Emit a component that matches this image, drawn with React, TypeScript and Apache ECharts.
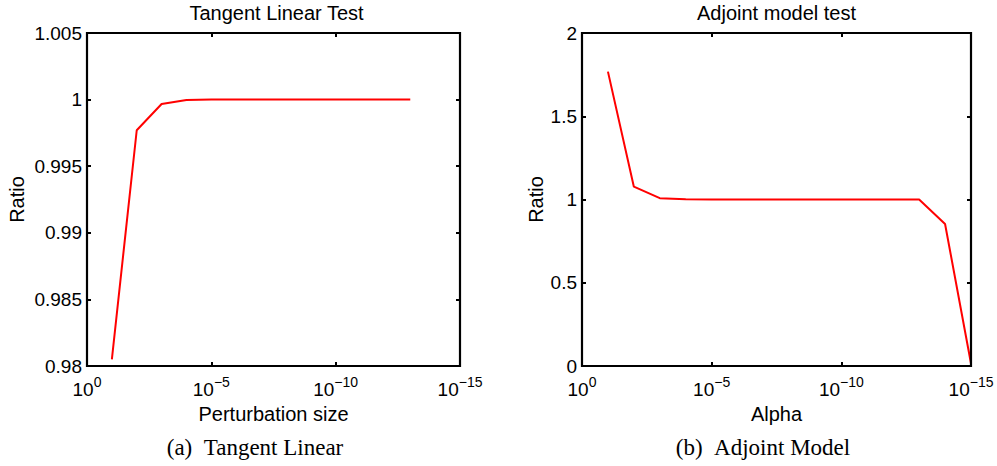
import React, { useEffect, useRef } from "react";
import * as echarts from "echarts";

// Tangent linear test (left)
const tlPerturbation = [1e-1, 1e-2, 1e-3, 1e-4, 1e-5, 1e-6, 1e-7, 1e-8, 1e-9, 1e-10, 1e-11, 1e-12, 1e-13];
const tlRatio = [0.9805, 0.9977, 0.99967, 0.99997, 1.0, 1.0, 1.0, 1.0, 1.0, 1.0, 1.0, 1.0, 1.0];

// Adjoint model test (right)
const adAlpha = [1e-1, 1e-2, 1e-3, 1e-4, 1e-5, 1e-6, 1e-7, 1e-8, 1e-9, 1e-10, 1e-11, 1e-12, 1e-13, 1e-14, 1e-15];
const adRatio = [1.768, 1.077, 1.008, 1.001, 1.0, 1.0, 1.0, 1.0, 1.0, 1.0, 1.0, 1.0, 1.0, 0.853, 0.015];

const titles = ["Tangent Linear Test", "Adjoint model test"];
const xNames = ["Perturbation size", "Alpha"];
const yName = "Ratio";
const captions = ["(a)\u2002Tangent Linear", "(b)\u2002Adjoint Model"];

const SANS = "'Liberation Sans', Arial, Helvetica, sans-serif";
const SERIF = "'Liberation Serif', 'Times New Roman', serif";

export default function App() {
  const ref = useRef<HTMLDivElement>(null);
  useEffect(() => {
    if (!ref.current) return;
    const chart = echarts.init(ref.current, null, { renderer: "svg" });

    const grids = [
      { left: 87, top: 33, width: 373, height: 333 },
      { left: 582, top: 33, width: 389, height: 333 },
    ];

    const logFormatter = (v: number) => {
      const e = Math.round(Math.log10(v));
      const s = e < 0 ? "\u2212" + Math.abs(e) : String(e);
      return "{b|10}{s|" + s + "}";
    };

    const mkLine = () => ({ show: true, onZero: false, lineStyle: { color: "#000000", width: 2, opacity: 1 } });
    const mkTick = () => ({ show: true, inside: true, length: 4, lineStyle: { color: "#000000", width: 2 } });

    const xAxes: any[] = [];
    const yAxes: any[] = [];
    const yCfg = [
      { min: 0.98, max: 1.005, interval: 0.005, gap: 60 },
      { min: 0, max: 2, interval: 0.5, gap: 36 },
    ];
    for (let i = 0; i < 2; i++) {
      xAxes.push({
        type: "log",
        logBase: 10,
        gridIndex: i,
        min: 1e-15,
        max: 1,
        interval: 5,
        inverse: true,
        position: "bottom",
        name: xNames[i],
        nameLocation: "middle",
        nameGap: 25,
        nameTextStyle: { fontFamily: SANS, fontSize: 20, color: "#000" },
        axisLine: mkLine(),
        axisTick: mkTick(),
        splitLine: { show: false },
        minorTick: { show: false },
        axisLabel: {
          show: true,
          margin: 9,
          showMinLabel: true,
          showMaxLabel: true,
          formatter: logFormatter,
          rich: {
            b: { fontFamily: SANS, fontSize: 19, color: "#000", lineHeight: 24, verticalAlign: "bottom" },
            s: { fontFamily: SANS, fontSize: 14, color: "#000", lineHeight: 14, verticalAlign: "top" },
          },
        },
      });
      xAxes.push({
        type: "log",
        logBase: 10,
        gridIndex: i,
        min: 1e-15,
        max: 1,
        interval: 5,
        inverse: true,
        position: "top",
        axisLine: mkLine(),
        axisTick: mkTick(),
        axisLabel: { show: false },
        splitLine: { show: false },
      });
      yAxes.push({
        type: "value",
        gridIndex: i,
        min: yCfg[i].min,
        max: yCfg[i].max,
        interval: yCfg[i].interval,
        position: "left",
        name: yName,
        nameLocation: "middle",
        nameGap: yCfg[i].gap,
        nameTextStyle: { fontFamily: SANS, fontSize: 20, color: "#000" },
        axisLine: mkLine(),
        axisTick: mkTick(),
        splitLine: { show: false },
        axisLabel: {
          show: true,
          margin: 5,
          fontFamily: SANS,
          fontSize: 19,
          color: "#000",
          showMinLabel: true,
          showMaxLabel: true,
          formatter: (v: number) => String(parseFloat(v.toFixed(4))),
        },
      });
      yAxes.push({
        type: "value",
        gridIndex: i,
        min: yCfg[i].min,
        max: yCfg[i].max,
        interval: yCfg[i].interval,
        position: "right",
        axisLine: mkLine(),
        axisTick: mkTick(),
        axisLabel: { show: false },
        splitLine: { show: false },
      });
    }

    const graphic: any[] = [];
    const centers = [grids[0].left + grids[0].width / 2, grids[1].left + grids[1].width / 2];
    for (let i = 0; i < 2; i++) {
      graphic.push({
        type: "text",
        x: centers[i] + (i === 0 ? 3 : 0),
        y: 13,
        style: { text: titles[i], fontFamily: SANS, fontSize: 20, fill: "#000", align: "center", verticalAlign: "middle" },
      });
      // plot frame
      graphic.push({
        type: "rect",
        shape: { x: grids[i].left, y: grids[i].top, width: grids[i].width, height: grids[i].height },
        style: { fill: "none", stroke: "#000", lineWidth: 2.2 },
        z: 10,
        silent: true,
      });
    }
    graphic.push({
      type: "text",
      x: 255,
      y: 447,
      style: { text: captions[0], fontFamily: SERIF, fontSize: 23, fill: "#000", align: "center", verticalAlign: "middle" },
    });
    graphic.push({
      type: "text",
      x: 763,
      y: 447,
      style: { text: captions[1], fontFamily: SERIF, fontSize: 23, fill: "#000", align: "center", verticalAlign: "middle" },
    });

    chart.setOption({
      animation: false,
      backgroundColor: "#fff",
      grid: grids,
      xAxis: xAxes,
      yAxis: yAxes,
      graphic,
      series: [
        {
          type: "line",
          xAxisIndex: 0,
          yAxisIndex: 0,
          data: tlPerturbation.map((x, k) => [x, tlRatio[k]]),
          showSymbol: false,
          symbol: "none",
          lineStyle: { color: "#ff0000", width: 2 },
          z: 1,
        },
        {
          type: "line",
          xAxisIndex: 2,
          yAxisIndex: 2,
          data: adAlpha.map((x, k) => [x, adRatio[k]]),
          showSymbol: false,
          symbol: "none",
          lineStyle: { color: "#ff0000", width: 2 },
          z: 1,
        },
      ],
    });
    return () => chart.dispose();
  }, []);
  return (
    <div
      ref={ref}
      style={{ position: "absolute", left: 0, top: 0, width: 997, height: 466, background: "#fff" }}
    />
  );
}
